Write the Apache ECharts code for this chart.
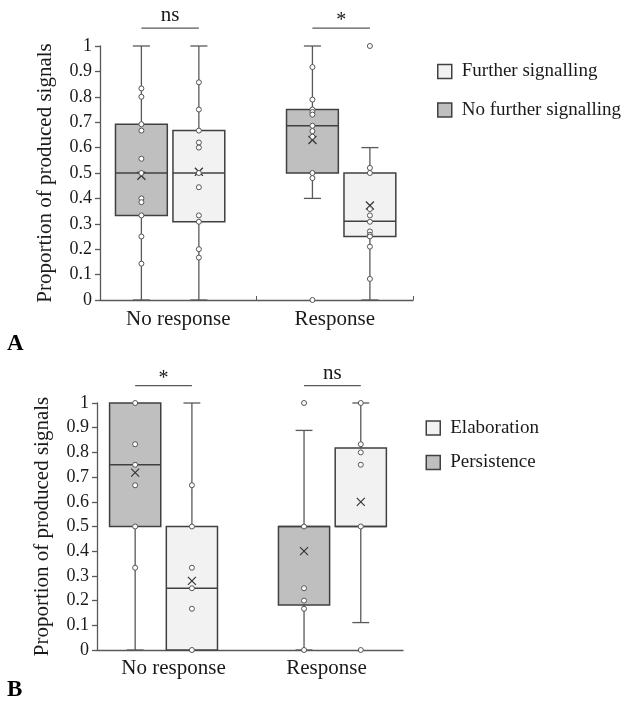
<!DOCTYPE html>
<html><head><meta charset="utf-8">
<script src="https://cdn.jsdelivr.net/npm/echarts@6/dist/echarts.min.js"></script>
<style>html,body{margin:0;padding:0;background:#fff}#c{width:624px;height:701px}</style>
</head><body><div id="c"></div>
<script>
// ---------- data ----------
const categories = ['No response', 'Response'];
const yAxisTitle = 'Proportion of produced signals';

// box summaries per category: [whiskerLow, q1, median, q3, whiskerHigh, mean]
// Panel A
const nameA_dark = 'No further signalling';
const nameA_light = 'Further signalling';
const boxesA_dark = [[0, 0.333, 0.5, 0.692, 1, 0.489], [0.4, 0.5, 0.686, 0.75, 1, 0.63]];
const boxesA_light = [[0, 0.308, 0.5, 0.667, 1, 0.505], [0, 0.25, 0.31, 0.5, 0.6, 0.372]];
const pointsA_dark = [
  [0.833, 0.8, 0.692, 0.667, 0.556, 0.5, 0.4, 0.385, 0.333, 0.25, 0.143],
  [0.917, 0.789, 0.75, 0.74, 0.73, 0.686, 0.665, 0.643, 0.5, 0.48, 0]
];
const pointsA_light = [
  [0.857, 0.75, 0.667, 0.62, 0.6, 0.5, 0.444, 0.333, 0.308, 0.2, 0.167],
  [1, 0.52, 0.5, 0.358, 0.333, 0.308, 0.27, 0.257, 0.25, 0.21, 0.083]
];
const sigA = ['ns', '*'];

// Panel B
const nameB_dark = 'Persistence';
const nameB_light = 'Elaboration';
const boxesB_dark = [[0, 0.5, 0.75, 1, 1, 0.718], [0, 0.182, 0.5, 0.5, 0.889, 0.4]];
const boxesB_light = [[0, 0, 0.25, 0.5, 1, 0.28], [0.111, 0.5, 0.5, 0.818, 1, 0.6]];
const pointsB_dark = [
  [1, 0.833, 0.75, 0.667, 0.5, 0.333],
  [1, 0.5, 0.25, 0.2, 0.167, 0]
];
const pointsB_light = [
  [0.667, 0.5, 0.333, 0.25, 0.167, 0],
  [1, 0.833, 0.8, 0.75, 0.5, 0]
];
const sigB = ['*', 'ns'];

// ---------- styling ----------
const FONT = "'Liberation Serif','Times New Roman',serif";
const TXT = '#1a1a1a';
const AXC = '#595959';
const DARK = '#bfbfbf';
const LIGHT = '#f2f2f2';
const BORDER = '#404040';
const OFF = 0.168, BOX_W = 0.303, CAP_W = 0.1;
const SIG_LEVEL = 1.07;

const whiskerStyle = {stroke: AXC, lineWidth: 1.3};
const meanStyle = {stroke: '#333', lineWidth: 1.2};

function boxSeries(name, idx, side, boxes, fill) {
  return {
    type: 'custom', name, xAxisIndex: idx * 2 + 1, yAxisIndex: idx,
    itemStyle: {color: fill, borderColor: BORDER, borderWidth: 1.5},
    encode: {x: 0, y: [1, 2, 3, 4, 5, 6]},
    data: boxes.map((b, i) => [i + side * OFF, ...b]),
    z: 2,
    renderItem(params, api) {
      const x = api.value(0);
      const lo = api.value(1), q1 = api.value(2), med = api.value(3), q3 = api.value(4), hi = api.value(5), mean = api.value(6);
      const cy = v => api.coord([x, v])[1];
      const cx = api.coord([x, med])[0];
      const w = api.size([BOX_W, 0])[0];
      const cw = api.size([CAP_W, 0])[0];
      const yLo = cy(lo), yQ1 = cy(q1), yMed = cy(med), yQ3 = cy(q3), yHi = cy(hi), yMean = cy(mean);
      const L = (x1, y1, x2, y2, st) => ({type: 'line', shape: {x1, y1, x2, y2}, style: st});
      const ch = [];
      if (yHi < yQ3 - 0.5) { ch.push(L(cx, yHi, cx, yQ3, whiskerStyle), L(cx - cw / 2, yHi, cx + cw / 2, yHi, whiskerStyle)); }
      if (yLo > yQ1 + 0.5) { ch.push(L(cx, yQ1, cx, yLo, whiskerStyle), L(cx - cw / 2, yLo, cx + cw / 2, yLo, whiskerStyle)); }
      ch.push({type: 'rect', shape: {x: cx - w / 2, y: yQ3, width: w, height: yQ1 - yQ3}, style: {fill, stroke: BORDER, lineWidth: 1.5}});
      ch.push(L(cx - w / 2, yMed, cx + w / 2, yMed, {stroke: BORDER, lineWidth: 1.3}));
      const m = 4;
      ch.push(L(cx - m, yMean - m, cx + m, yMean + m, meanStyle), L(cx - m, yMean + m, cx + m, yMean - m, meanStyle));
      return {type: 'group', children: ch};
    }
  };
}

function pointSeries(name, idx, side, pts) {
  const data = [];
  pts.forEach((arr, i) => arr.forEach(v => data.push([i + side * OFF, v])));
  return {
    type: 'scatter', name, xAxisIndex: idx * 2 + 1, yAxisIndex: idx, data,
    symbol: 'circle', symbolSize: 5, z: 3, silent: true,
    itemStyle: {color: '#fff', borderColor: '#555', borderWidth: 1, opacity: 1}
  };
}

function sigSeries(name, idx, labels) {
  return {
    type: 'custom', name, xAxisIndex: idx * 2 + 1, yAxisIndex: idx, z: 4, silent: true,
    encode: {x: 0, y: 1},
    data: labels.map((t, i) => [i, SIG_LEVEL, t]),
    renderItem(params, api) {
      const i = api.value(0), lv = api.value(1);
      const t = labels[params.dataIndex];
      const p1 = api.coord([i - OFF, lv]), p2 = api.coord([i + OFF, lv]);
      const star = t === '*';
      return {type: 'group', children: [
        {type: 'line', shape: {x1: p1[0], y1: p1[1], x2: p2[0], y2: p2[1]}, style: {stroke: AXC, lineWidth: 1.3}},
        {type: 'text', x: (p1[0] + p2[0]) / 2, y: p1[1] - (star ? -3 : 2),
          style: {text: t, fill: TXT, font: (star ? '20px ' : '21px ') + FONT, align: 'center', verticalAlign: 'bottom'}}
      ]};
    }
  };
}

function yAxis(idx) {
  return {
    type: 'value', gridIndex: idx, min: 0, max: 1, interval: 0.1,
    name: yAxisTitle, nameLocation: 'middle', nameGap: 44,
    nameTextStyle: {fontFamily: FONT, fontSize: 21, color: TXT},
    axisLine: {show: true, onZero: false, lineStyle: {color: AXC, width: 1.3}},
    axisTick: {show: true, length: 5, lineStyle: {color: AXC, width: 1.3}},
    axisLabel: {fontFamily: FONT, fontSize: 18, color: TXT, margin: 8},
    splitLine: {show: false}
  };
}

const legendBase = {
  orient: 'vertical', icon: 'rect', itemWidth: 14, itemHeight: 14, padding: 0,
  selectedMode: false,
  itemStyle: {borderColor: BORDER, borderWidth: 1.5},
  textStyle: {fontFamily: FONT, fontSize: 19, color: TXT, lineHeight: 19, padding: [0, 0, 0, 5]}
};

const option = {
  animation: false,
  backgroundColor: '#fff',
  grid: [
    {left: 100, right: 211, top: 46, bottom: 401},
    {left: 97, right: 221, top: 403, bottom: 51}
  ],
  xAxis: [
    {type: 'category', gridIndex: 0, data: categories, boundaryGap: true,
      axisLine: {onZero: false, lineStyle: {color: AXC, width: 1.3}},
      axisTick: {show: true, inside: true, length: 4, lineStyle: {color: AXC}},
      axisLabel: {fontFamily: FONT, fontSize: 21, color: TXT, margin: 9}},
    {type: 'value', gridIndex: 0, min: -0.41, max: 1.42, show: false},
    {type: 'category', gridIndex: 1, data: categories, boundaryGap: true,
      axisLine: {onZero: false, lineStyle: {color: AXC, width: 1.3}},
      axisTick: {show: false},
      axisLabel: {fontFamily: FONT, fontSize: 21, color: TXT, margin: 8}},
    {type: 'value', gridIndex: 1, min: -0.394, max: 1.418, show: false}
  ],
  yAxis: [yAxis(0), yAxis(1)],
  legend: [
    Object.assign({}, legendBase, {left: 437, top: 62, itemGap: 19.5, data: [nameA_light, nameA_dark]}),
    Object.assign({}, legendBase, {left: 425.5, top: 418.5, itemGap: 15.5, data: [nameB_light, nameB_dark]})
  ],
  graphic: [
    {type: 'text', left: 7, top: 333, style: {text: 'A', font: 'bold 23px ' + FONT, fill: '#000'}},
    {type: 'text', left: 7, top: 679, style: {text: 'B', font: 'bold 23px ' + FONT, fill: '#000'}}
  ],
  series: [
    boxSeries(nameA_dark, 0, -1, boxesA_dark, DARK),
    boxSeries(nameA_light, 0, 1, boxesA_light, LIGHT),
    pointSeries('ptsA_dark', 0, -1, pointsA_dark),
    pointSeries('ptsA_light', 0, 1, pointsA_light),
    sigSeries('sigA', 0, sigA),
    boxSeries(nameB_dark, 1, -1, boxesB_dark, DARK),
    boxSeries(nameB_light, 1, 1, boxesB_light, LIGHT),
    pointSeries('ptsB_dark', 1, -1, pointsB_dark),
    pointSeries('ptsB_light', 1, 1, pointsB_light),
    sigSeries('sigB', 1, sigB)
  ]
};

const chart = echarts.init(document.getElementById('c'), null, {renderer: 'canvas'});
chart.setOption(option);
</script>
</body></html>
